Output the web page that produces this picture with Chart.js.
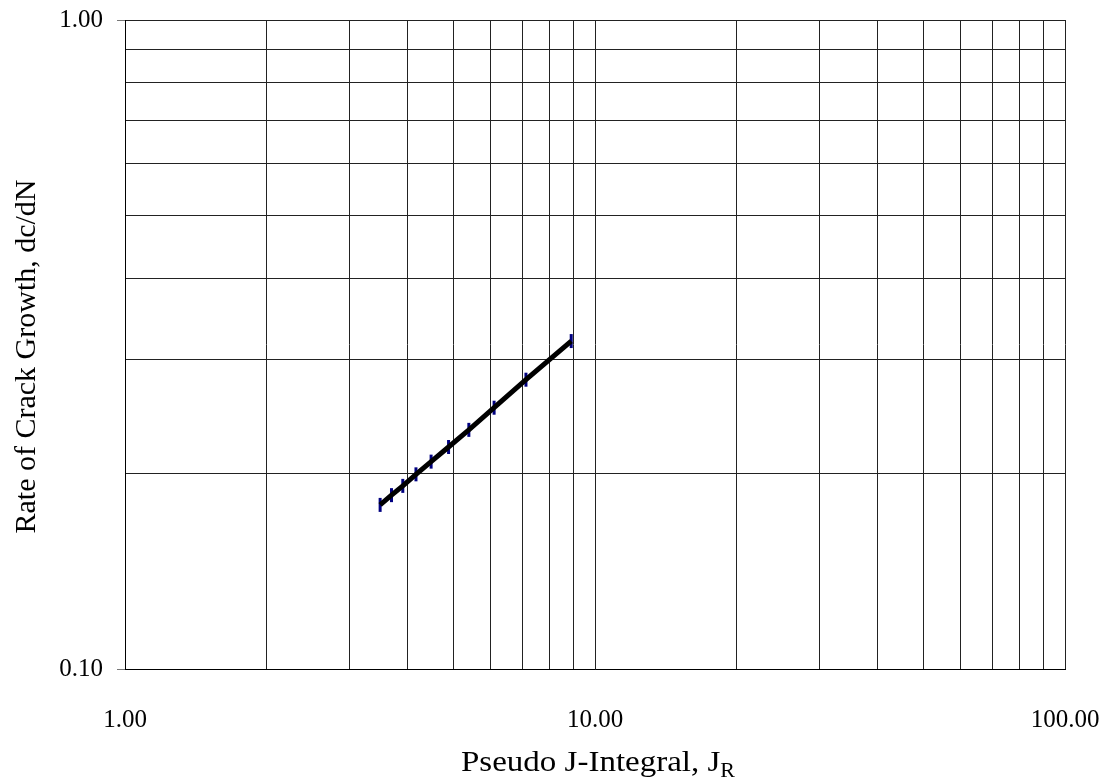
<!DOCTYPE html>
<html lang="en">
<head>
<meta charset="UTF-8">
<title>Crack growth rate</title>
<script src="https://cdn.jsdelivr.net/npm/chart.js@4"></script>
<style>
  html, body { margin: 0; padding: 0; background: #fff; }
  #wrap { width: 1111px; height: 783px; }
</style>
</head>
<body>
<div id="wrap"><canvas id="crack-chart" width="1111" height="783"></canvas></div>
<script>
  // values (log-log plot)
  const jIntegral = [3.49, 3.69, 3.90, 4.16, 4.48, 4.88, 5.39, 6.10, 7.13, 8.90];
  const crackRate = [0.179, 0.1853, 0.1915, 0.1995, 0.2087, 0.2198, 0.2336, 0.2527, 0.2791, 0.3201];

  // grid lines, labels only on the decades
  const xGrid = [1, 2, 3, 4, 5, 6, 7, 8, 9, 10, 20, 30, 40, 50, 60, 70, 80, 90, 100];
  const yGrid = [0.1, 0.2, 0.3, 0.4, 0.5, 0.6, 0.7, 0.8, 0.9, 1];

  const xTitle = 'Pseudo J-Integral, J';
  const xTitleSub = 'R';
  const yTitle = 'Rate of Crack Growth, dc/dN';

  const serif = "'Liberation Serif', 'Times New Roman', serif";

  const points = jIntegral.map((x, i) => ({x: x, y: crackRate[i]}));

  function isDecade(v) {
    const l = Math.log10(v);
    return Math.abs(l - Math.round(l)) < 1e-9;
  }

  // titles drawn by hand: the x one has a subscript
  const titlePlugin = {
    id: 'titles',
    afterDraw(chart) {
      const c = chart.ctx;
      const area = chart.chartArea;
      c.save();
      c.fillStyle = '#000';
      c.textBaseline = 'alphabetic';
      c.textAlign = 'left';

      // x title (a little wider than the plain font in the original)
      c.font = '30px ' + serif;
      const w1 = c.measureText(xTitle).width;
      c.font = '20px ' + serif;
      const w2 = c.measureText(xTitleSub).width;
      const sx = 1.1;
      const cx = (area.left + area.right) / 2 + 3;
      c.save();
      c.translate(cx - (w1 + w2) * sx / 2, 771);
      c.scale(sx, 1);
      c.font = '30px ' + serif;
      c.fillText(xTitle, 0, 0);
      c.font = '20px ' + serif;
      c.fillText(xTitleSub, w1, 6);
      c.restore();

      // y title
      c.font = '30px ' + serif;
      const wy = c.measureText(yTitle).width;
      c.save();
      c.translate(35, (area.top + area.bottom) / 2 + 12 + wy / 2);
      c.rotate(-Math.PI / 2);
      c.fillText(yTitle, 0, 0);
      c.restore();

      c.restore();
    }
  };

  new Chart(document.getElementById('crack-chart'), {
    type: 'scatter',
    data: {
      datasets: [
        {
          label: 'fit',
          data: points,
          showLine: true,
          borderColor: '#000',
          borderWidth: 5,
          pointRadius: 0,
          order: 0
        },
        {
          label: 'data',
          data: points,
          showLine: false,
          pointStyle: 'line',
          rotation: 90,
          pointRadius: 7,
          borderWidth: 3,
          borderColor: '#000080',
          backgroundColor: '#000080',
          order: 1
        }
      ]
    },
    options: {
      responsive: false,
      animation: false,
      layout: { padding: { top: 20, right: 46, left: 0, bottom: 0 } },
      plugins: {
        legend: { display: false },
        tooltip: { enabled: false }
      },
      scales: {
        x: {
          type: 'logarithmic',
          min: xGrid[0],
          max: xGrid[xGrid.length - 1],
          afterBuildTicks(scale) { scale.ticks = xGrid.map(v => ({value: v})); },
          afterFit(scale) {
            scale.height = 114;
            scale.paddingLeft = 0;
            scale.paddingRight = 0;
          },
          border: { color: '#000', width: 1 },
          grid: {
            color: '#222',
            lineWidth: 1,
            tickLength: 8,
            tickColor: 'rgba(0,0,0,0)'
          },
          ticks: {
            autoSkip: false,
            maxRotation: 0,
            padding: 28,
            color: '#000',
            font: { family: serif, size: 25 },
            callback: (v) => isDecade(v) ? Number(v).toFixed(2) : ''
          },
          title: { display: false }
        },
        y: {
          type: 'logarithmic',
          min: yGrid[0],
          max: yGrid[yGrid.length - 1],
          afterBuildTicks(scale) { scale.ticks = yGrid.map(v => ({value: v})); },
          afterFit(scale) {
            scale.width = 125;
            scale.paddingTop = 0;
            scale.paddingBottom = 0;
          },
          border: { color: '#000', width: 1 },
          grid: {
            color: '#222',
            lineWidth: 1,
            tickLength: 8,
            tickColor: (ctx) => (ctx.tick && isDecade(ctx.tick.value)) ? '#777' : 'rgba(0,0,0,0)'
          },
          ticks: {
            autoSkip: false,
            padding: 14,
            color: '#000',
            font: { family: serif, size: 25 },
            callback: (v) => isDecade(v) ? Number(v).toFixed(2) : ''
          },
          title: { display: false }
        }
      }
    },
    plugins: [titlePlugin]
  });
</script>
</body>
</html>
